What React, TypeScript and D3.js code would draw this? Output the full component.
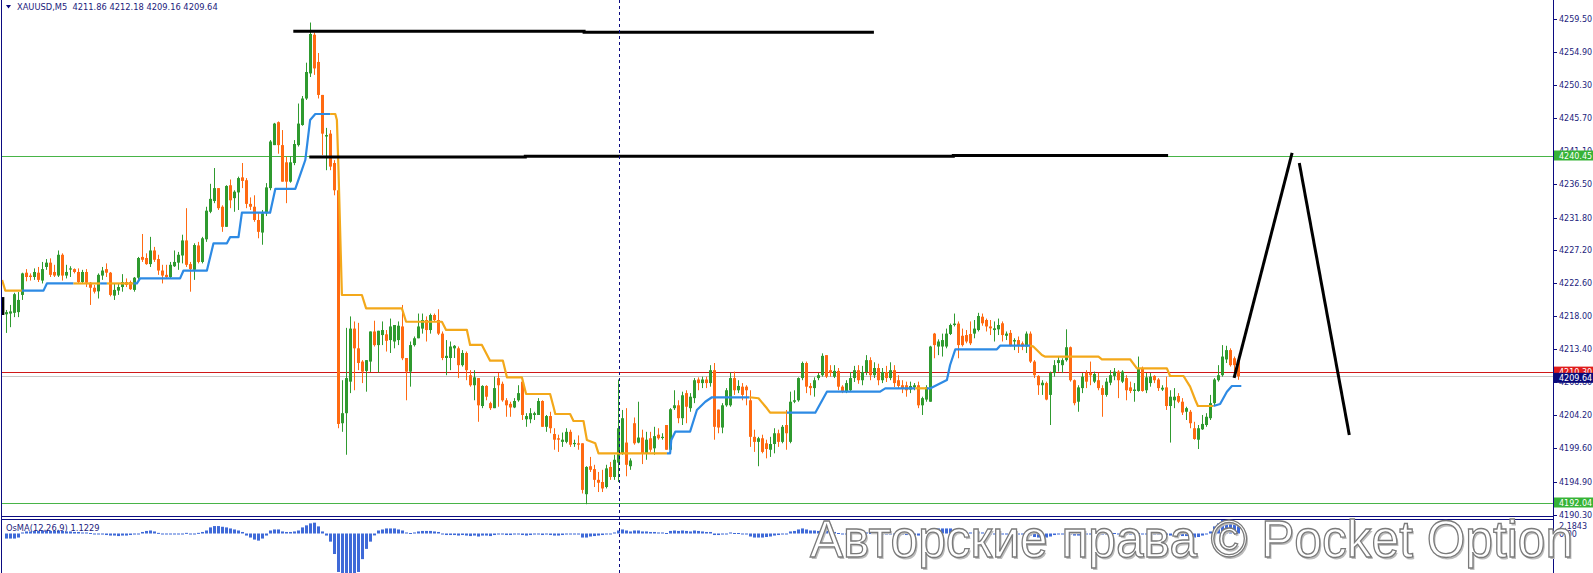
import * as d3 from 'd3';
import * as React from 'react';

const { useRef, useEffect } = React;

const width = 1593;
const height = 573;
const axisX = 1553;
const mainBottom = 516.5;
const subTop = 519.5;

const headerText = 'XAUUSD,M5  4211.86 4212.18 4209.16 4209.64';
const osmaText = 'OsMA(12,26,9) 1.1229';
const watermarkText = 'Авторские права © Pocket Option';

// M5 bars, [open, high, low, close]
const candles: [number, number, number, number][] = [
  [4218.3, 4218.9, 4215.7, 4218.6], [4218.4, 4219.6, 4216.5, 4218.7], [4218.5, 4221.3, 4217.9, 4221.1], [4218.6, 4221.4, 4217.9, 4220.3],
  [4221.0, 4224.1, 4220.3, 4224.0], [4224.1, 4224.6, 4222.9, 4223.5], [4223.7, 4224.0, 4223.0, 4223.5], [4223.5, 4224.7, 4223.1, 4224.2],
  [4224.1, 4224.9, 4222.8, 4223.1], [4223.0, 4225.6, 4222.6, 4224.6], [4224.9, 4226.0, 4224.5, 4225.5], [4225.5, 4226.1, 4223.5, 4223.8],
  [4224.2, 4225.2, 4223.5, 4223.7], [4223.7, 4227.2, 4223.5, 4226.6], [4226.6, 4226.8, 4223.0, 4223.7], [4223.7, 4225.2, 4223.3, 4224.2],
  [4224.55, 4225.0, 4223.5, 4224.7], [4224.6, 4224.7, 4224.0, 4224.2], [4224.2, 4224.7, 4222.6, 4222.8], [4222.8, 4224.5, 4222.6, 4224.2],
  [4224.2, 4224.6, 4222.1, 4222.7], [4222.7, 4222.8, 4219.6, 4222.0], [4222.0, 4222.4, 4221.2, 4221.45], [4221.5, 4224.0, 4220.5, 4223.8],
  [4223.7, 4224.9, 4223.1, 4224.4], [4224.6, 4225.4, 4223.5, 4224.1], [4224.1, 4224.2, 4220.8, 4221.0], [4220.9, 4222.6, 4220.3, 4221.7],
  [4221.6, 4222.6, 4221.0, 4222.1], [4222.1, 4223.9, 4221.45, 4222.8], [4222.8, 4223.3, 4222.1, 4222.4], [4222.8, 4223.0, 4221.7, 4221.8],
  [4221.7, 4223.5, 4221.45, 4223.4], [4223.4, 4226.3, 4223.1, 4226.15], [4226.3, 4229.5, 4225.6, 4225.9], [4226.15, 4226.8, 4225.2, 4225.3],
  [4225.3, 4229.1, 4224.9, 4227.2], [4227.2, 4227.7, 4225.6, 4225.9], [4226.0, 4226.6, 4223.8, 4224.4], [4224.4, 4225.2, 4222.6, 4223.7],
  [4223.8, 4225.2, 4223.3, 4223.5], [4223.5, 4225.6, 4223.3, 4225.2], [4225.0, 4227.2, 4224.9, 4225.6], [4225.5, 4227.0, 4224.5, 4226.6],
  [4226.5, 4229.4, 4225.4, 4228.6], [4228.6, 4233.1, 4224.9, 4225.2], [4225.3, 4225.6, 4221.45, 4224.6], [4224.5, 4228.2, 4223.1, 4227.96],
  [4227.9, 4228.4, 4225.4, 4225.6], [4225.6, 4229.1, 4225.4, 4228.9], [4228.76, 4233.3, 4228.4, 4232.75], [4232.6, 4236.5, 4232.4, 4234.4],
  [4234.1, 4238.7, 4233.8, 4235.9], [4235.9, 4235.9, 4232.85, 4233.1], [4233.3, 4233.5, 4229.8, 4230.5], [4230.5, 4236.3, 4230.5, 4236.2],
  [4236.3, 4237.1, 4233.1, 4234.2], [4234.5, 4235.6, 4232.6, 4235.4], [4235.3, 4237.5, 4232.85, 4237.3], [4237.4, 4239.4, 4235.9, 4236.9],
  [4237.0, 4237.3, 4233.1, 4233.7], [4233.7, 4234.6, 4232.85, 4233.3], [4233.3, 4234.9, 4231.2, 4231.45], [4231.45, 4232.4, 4228.9, 4229.8],
  [4229.7, 4232.85, 4228.0, 4232.4], [4232.4, 4236.6, 4232.0, 4236.0], [4235.9, 4242.6, 4235.6, 4242.4], [4241.9, 4245.0, 4241.9, 4244.9],
  [4245.1, 4245.2, 4240.7, 4241.9], [4241.9, 4244.0, 4236.8, 4236.8], [4239.5, 4240.3, 4233.8, 4236.8], [4236.8, 4240.3, 4236.65, 4239.5],
  [4239.4, 4242.6, 4239.1, 4242.05], [4241.9, 4247.7, 4241.7, 4244.9], [4244.7, 4248.75, 4244.6, 4248.4], [4248.4, 4253.4, 4248.2, 4252.1],
  [4251.9, 4259.0, 4251.4, 4257.4], [4257.3, 4257.6, 4251.7, 4252.6], [4253.5, 4254.75, 4248.4, 4248.9], [4248.9, 4248.9, 4240.5, 4243.5],
  [4243.1, 4244.3, 4238.4, 4243.3], [4243.5, 4244.0, 4238.4, 4238.9], [4239.4, 4239.8, 4234.9, 4235.6], [4235.6, 4235.9, 4202.4, 4203.0],
  [4203.1, 4209.1, 4201.9, 4204.5], [4204.5, 4216.4, 4198.7, 4209.4], [4208.9, 4218.0, 4207.3, 4216.3], [4216.3, 4217.3, 4207.7, 4213.55],
  [4213.55, 4217.1, 4210.5, 4211.5], [4211.7, 4211.9, 4208.7, 4210.3], [4210.4, 4211.9, 4207.5, 4211.9], [4211.7, 4215.9, 4210.25, 4215.9],
  [4215.9, 4217.4, 4213.8, 4214.0], [4214.0, 4216.0, 4210.15, 4216.0], [4215.4, 4217.3, 4214.0, 4216.1], [4215.5, 4216.1, 4213.1, 4214.6],
  [4214.7, 4217.7, 4212.9, 4216.6], [4214.5, 4216.8, 4213.55, 4216.8], [4214.7, 4217.3, 4214.0, 4216.7], [4216.6, 4219.6, 4211.9, 4212.16],
  [4212.2, 4212.2, 4206.3, 4210.3], [4210.3, 4214.5, 4208.2, 4214.0], [4214.0, 4215.2, 4213.8, 4214.95], [4214.95, 4218.4, 4214.95, 4216.6],
  [4216.3, 4218.4, 4215.6, 4217.5], [4217.5, 4218.0, 4214.5, 4216.1], [4216.1, 4218.4, 4215.6, 4218.2], [4218.2, 4218.4, 4217.3, 4217.5],
  [4217.5, 4219.0, 4215.4, 4215.6], [4215.6, 4215.9, 4211.9, 4212.2], [4212.2, 4214.7, 4209.8, 4212.5], [4212.2, 4214.5, 4210.5, 4213.8],
  [4213.55, 4214.0, 4212.2, 4213.9], [4213.55, 4213.8, 4209.4, 4211.2], [4211.2, 4213.3, 4211.0, 4212.9], [4212.9, 4213.1, 4209.1, 4210.5],
  [4209.8, 4210.5, 4208.2, 4208.4], [4208.4, 4210.5, 4206.3, 4209.5], [4209.4, 4209.4, 4203.3, 4205.6], [4205.5, 4208.4, 4205.2, 4208.3],
  [4208.3, 4208.4, 4206.3, 4206.8], [4205.9, 4206.1, 4204.95, 4205.2], [4205.2, 4209.6, 4205.2, 4208.0], [4209.4, 4210.1, 4205.4, 4208.4],
  [4208.6, 4208.9, 4206.1, 4206.3], [4206.3, 4206.6, 4204.0, 4205.6], [4205.8, 4206.1, 4204.0, 4205.3], [4205.3, 4206.6, 4205.2, 4206.2],
  [4206.3, 4208.4, 4206.1, 4207.3], [4208.9, 4209.1, 4203.55, 4204.25], [4203.65, 4204.5, 4202.6, 4204.1], [4203.65, 4205.2, 4203.1, 4204.5],
  [4204.25, 4204.7, 4203.55, 4204.5], [4204.25, 4206.6, 4204.25, 4206.2], [4206.2, 4206.3, 4202.6, 4202.6], [4202.6, 4204.25, 4201.9, 4204.1],
  [4204.1, 4204.7, 4201.7, 4202.4], [4201.6, 4202.4, 4199.4, 4200.8], [4201.0, 4201.5, 4199.1, 4200.8], [4200.5, 4201.8, 4199.8, 4200.8],
  [4200.5, 4202.4, 4200.3, 4201.9], [4201.9, 4202.2, 4199.8, 4200.1], [4200.25, 4200.8, 4199.8, 4200.35], [4200.3, 4201.4, 4199.4, 4200.1],
  [4200.3, 4200.3, 4193.3, 4193.8], [4193.2, 4197.1, 4191.8, 4197.0], [4197.1, 4198.4, 4196.3, 4196.6], [4196.7, 4197.3, 4194.2, 4195.2],
  [4195.2, 4196.3, 4193.5, 4194.8], [4194.9, 4196.6, 4193.5, 4194.0], [4194.2, 4197.3, 4194.0, 4196.8], [4197.0, 4197.7, 4195.2, 4195.6],
  [4195.6, 4198.7, 4195.2, 4198.0], [4197.6, 4209.2, 4194.9, 4202.4], [4198.8, 4204.95, 4198.7, 4203.8], [4200.4, 4205.2, 4195.7, 4197.3],
  [4197.1, 4198.2, 4196.6, 4197.9], [4203.1, 4203.9, 4200.1, 4200.3], [4200.4, 4206.1, 4200.3, 4201.1], [4201.1, 4202.2, 4197.4, 4198.9],
  [4198.9, 4201.9, 4198.0, 4200.8], [4201.0, 4201.9, 4199.1, 4199.4], [4199.6, 4202.6, 4198.7, 4201.3], [4201.5, 4202.4, 4200.8, 4201.0],
  [4201.1, 4201.7, 4200.8, 4201.2], [4202.85, 4202.85, 4199.4, 4199.4], [4199.4, 4205.2, 4198.9, 4205.05], [4205.2, 4207.7, 4204.95, 4205.6],
  [4205.6, 4206.3, 4203.1, 4203.8], [4203.8, 4207.5, 4202.85, 4207.0], [4207.3, 4207.7, 4203.1, 4205.4], [4205.2, 4207.3, 4204.7, 4206.8],
  [4206.6, 4209.4, 4205.9, 4209.1], [4209.2, 4209.5, 4207.7, 4208.7], [4208.7, 4209.6, 4208.0, 4209.2], [4209.2, 4209.6, 4208.0, 4208.7],
  [4208.7, 4211.2, 4208.2, 4210.5], [4210.5, 4211.5, 4200.8, 4202.6], [4205.0, 4205.0, 4201.7, 4202.5], [4202.5, 4205.9, 4201.7, 4205.6],
  [4205.6, 4208.0, 4205.4, 4207.7], [4205.6, 4210.15, 4205.4, 4209.4], [4209.4, 4210.3, 4207.05, 4207.7], [4207.7, 4209.1, 4207.3, 4208.3],
  [4208.2, 4208.7, 4206.3, 4207.05], [4208.2, 4208.4, 4205.6, 4207.7], [4206.3, 4207.7, 4199.8, 4201.2], [4201.2, 4202.2, 4199.1, 4200.5],
  [4200.5, 4201.2, 4197.1, 4201.0], [4201.0, 4201.5, 4198.9, 4199.1], [4200.3, 4200.8, 4198.2, 4199.5], [4199.4, 4201.2, 4198.4, 4200.2],
  [4200.2, 4202.4, 4198.9, 4201.7], [4201.7, 4202.2, 4199.8, 4200.5], [4200.5, 4202.85, 4200.3, 4202.6], [4202.85, 4204.95, 4199.4, 4201.7],
  [4200.5, 4207.5, 4200.3, 4206.1], [4206.1, 4207.7, 4205.9, 4206.3], [4206.3, 4209.5, 4206.1, 4209.4], [4209.4, 4211.7, 4209.1, 4211.5],
  [4211.5, 4211.7, 4207.3, 4208.2], [4208.3, 4208.7, 4207.0, 4208.0], [4208.0, 4209.5, 4206.8, 4209.1], [4209.4, 4210.1, 4209.1, 4209.8],
  [4209.8, 4212.85, 4209.6, 4212.5], [4212.6, 4212.6, 4209.4, 4209.6], [4210.5, 4211.2, 4209.6, 4210.1], [4209.6, 4211.2, 4209.4, 4210.4],
  [4210.4, 4210.8, 4207.7, 4208.2], [4208.2, 4208.4, 4207.3, 4207.5], [4207.5, 4209.1, 4207.3, 4208.7], [4207.7, 4210.25, 4207.45, 4209.4],
  [4209.4, 4211.1, 4208.85, 4210.5], [4210.5, 4211.2, 4208.6, 4209.1], [4209.1, 4211.1, 4208.4, 4210.25], [4210.25, 4212.6, 4209.8, 4211.9],
  [4211.9, 4212.3, 4209.1, 4209.8], [4209.8, 4211.6, 4209.4, 4210.8], [4210.8, 4211.4, 4208.4, 4209.1], [4209.1, 4210.8, 4208.7, 4210.25],
  [4210.25, 4211.1, 4208.85, 4209.4], [4209.4, 4211.6, 4209.1, 4210.5], [4210.5, 4211.2, 4208.15, 4208.7], [4209.1, 4209.8, 4207.9, 4208.3],
  [4208.4, 4209.1, 4207.3, 4208.0], [4208.4, 4208.9, 4206.8, 4207.7], [4207.8, 4208.9, 4207.3, 4208.3], [4208.1, 4208.7, 4207.7, 4208.4],
  [4208.4, 4208.9, 4205.2, 4205.6], [4205.6, 4206.8, 4204.25, 4206.6], [4206.4, 4208.4, 4206.1, 4208.1], [4206.1, 4213.9, 4206.1, 4213.8],
  [4215.6, 4215.7, 4212.16, 4214.0], [4213.8, 4214.8, 4212.6, 4214.5], [4213.8, 4215.6, 4212.4, 4214.7], [4213.8, 4216.3, 4213.55, 4215.6],
  [4215.55, 4217.0, 4215.4, 4216.8], [4216.8, 4218.4, 4216.6, 4217.0], [4217.0, 4217.3, 4212.16, 4214.0], [4215.3, 4216.3, 4213.8, 4214.0],
  [4215.4, 4216.1, 4214.25, 4214.5], [4215.55, 4217.3, 4214.0, 4214.25], [4215.6, 4217.5, 4214.95, 4216.3], [4216.1, 4218.5, 4215.9, 4218.06],
  [4217.96, 4218.4, 4216.7, 4217.04], [4217.5, 4217.7, 4215.9, 4216.6], [4216.6, 4217.5, 4215.4, 4216.34], [4216.1, 4217.3, 4214.5, 4216.34],
  [4216.2, 4217.7, 4215.4, 4216.8], [4217.04, 4217.3, 4214.5, 4215.4], [4215.3, 4215.9, 4214.7, 4215.6], [4215.7, 4216.1, 4213.8, 4214.0],
  [4214.5, 4214.95, 4213.3, 4214.7], [4214.7, 4215.2, 4212.9, 4214.0], [4214.25, 4214.5, 4213.3, 4213.8], [4213.8, 4215.9, 4212.9, 4215.6],
  [4215.6, 4215.9, 4211.5, 4211.7], [4211.7, 4211.9, 4209.4, 4209.8], [4209.7, 4209.8, 4207.05, 4208.4], [4208.4, 4209.1, 4207.05, 4208.75],
  [4208.7, 4208.9, 4206.3, 4206.4], [4207.05, 4210.3, 4202.85, 4210.1], [4210.1, 4211.9, 4209.6, 4211.2], [4211.5, 4212.4, 4210.3, 4211.9],
  [4211.2, 4212.16, 4210.1, 4211.9], [4211.9, 4216.2, 4211.7, 4213.7], [4213.7, 4213.8, 4208.9, 4209.1], [4209.1, 4209.2, 4205.6, 4205.9],
  [4206.1, 4208.4, 4204.7, 4208.1], [4208.0, 4210.1, 4207.3, 4209.6], [4210.1, 4210.5, 4208.0, 4208.9], [4210.1, 4211.7, 4208.4, 4209.8],
  [4208.9, 4210.3, 4208.7, 4209.97], [4209.1, 4210.15, 4207.7, 4208.0], [4208.0, 4208.4, 4204.0, 4207.05], [4207.05, 4209.4, 4206.8, 4208.9],
  [4208.75, 4210.5, 4208.4, 4209.8], [4209.7, 4210.8, 4209.1, 4210.3], [4210.3, 4210.5, 4206.6, 4209.1], [4208.9, 4210.5, 4208.7, 4210.3],
  [4209.4, 4209.8, 4206.3, 4207.7], [4208.1, 4208.9, 4207.3, 4207.6], [4207.6, 4208.7, 4206.1, 4207.8], [4207.6, 4212.4, 4207.5, 4210.8],
  [4210.8, 4211.0, 4207.5, 4207.6], [4207.7, 4210.1, 4207.3, 4209.5], [4208.7, 4210.1, 4208.2, 4209.6], [4209.7, 4209.8, 4208.7, 4209.1],
  [4209.2, 4209.4, 4207.6, 4208.0], [4207.8, 4208.4, 4207.6, 4208.05], [4208.1, 4209.6, 4204.95, 4205.5], [4205.5, 4207.7, 4200.4, 4206.8],
  [4206.3, 4208.0, 4205.2, 4206.8], [4206.9, 4207.3, 4205.9, 4206.1], [4206.1, 4206.6, 4204.25, 4204.6], [4204.7, 4205.4, 4203.55, 4205.2],
  [4204.7, 4204.95, 4202.4, 4203.1], [4202.4, 4203.3, 4200.8, 4200.9], [4200.8, 4202.85, 4199.5, 4202.4], [4202.25, 4204.25, 4202.16, 4203.0],
  [4202.85, 4204.5, 4202.6, 4204.0], [4203.8, 4207.05, 4203.55, 4205.9], [4205.9, 4209.4, 4205.6, 4209.2], [4209.1, 4211.2, 4208.9, 4209.8],
  [4209.8, 4214.0, 4209.6, 4212.4], [4212.0, 4213.9, 4211.5, 4213.3], [4213.3, 4213.55, 4211.0, 4211.2], [4212.16, 4212.4, 4210.3, 4211.2],
  [4211.86, 4212.18, 4209.16, 4209.64],
];

// trailing stop line vertices: [bar index, price, 'd' = falling (orange) / 'u' = rising (blue)]
const trail: [number, number, string][] = [
  [-1.1, 4223.08, 'd'], [-0.3, 4221.6, 'd'], [3.85, 4221.6, 'd'], [9.25, 4221.6, 'u'], [10.1, 4222.6, 'u'],
  [16.75, 4222.6, 'u'], [23.4, 4222.6, 'd'], [25.1, 4222.6, 'u'], [31.75, 4222.6, 'd'], [32.6, 4222.6, 'u'],
  [33.4, 4223.3, 'u'], [43.4, 4223.3, 'u'], [44.25, 4224.4, 'u'], [50.1, 4224.4, 'u'], [51.75, 4228.2, 'u'],
  [55.1, 4228.2, 'u'], [55.9, 4229.05, 'u'], [58.0, 4229.05, 'u'], [58.85, 4232.47, 'u'], [65.9, 4232.47, 'u'],
  [67.2, 4235.78, 'u'], [72.2, 4235.78, 'u'], [73.85, 4238.43, 'u'], [74.7, 4239.82, 'u'], [75.9, 4245.4, 'u'],
  [77.2, 4246.24, 'u'], [80.9, 4246.24, 'u'], [82.2, 4246.24, 'd'], [82.6, 4245.4, 'd'], [83.0, 4238.43, 'd'],
  [83.85, 4220.99, 'd'], [88.85, 4220.99, 'd'], [89.9, 4219.13, 'd'], [98.85, 4219.13, 'd'], [99.9, 4217.26, 'd'],
  [108.85, 4217.26, 'd'], [109.9, 4216.11, 'd'], [115.1, 4216.11, 'd'], [115.9, 4214.02, 'd'], [118.85, 4214.02, 'd'],
  [120.9, 4211.82, 'd'], [124.1, 4211.82, 'd'], [125.1, 4209.51, 'd'], [128.85, 4209.51, 'd'], [129.9, 4207.18, 'd'],
  [135.9, 4207.18, 'd'], [136.75, 4205.41, 'd'], [137.2, 4204.39, 'd'], [140.9, 4204.39, 'd'], [141.75, 4203.41, 'd'],
  [144.25, 4203.41, 'd'], [145.1, 4200.76, 'd'], [147.2, 4200.3, 'd'], [148.0, 4198.9, 'd'], [165.1, 4198.9, 'd'],
  [165.9, 4198.9, 'u'], [166.2, 4200.76, 'u'], [167.2, 4201.92, 'u'], [170.9, 4201.92, 'u'], [172.6, 4204.95, 'u'],
  [174.7, 4206.1, 'u'], [176.35, 4206.72, 'u'], [185.75, 4206.72, 'u'], [188.0, 4206.58, 'd'], [190.1, 4205.18, 'd'],
  [190.9, 4204.57, 'd'], [195.1, 4204.57, 'd'], [202.2, 4204.57, 'u'], [205.1, 4207.5, 'u'], [218.4, 4207.5, 'u'],
  [219.7, 4207.97, 'u'], [227.2, 4207.97, 'u'], [230.1, 4207.97, 'd'], [231.0, 4207.97, 'u'], [235.1, 4209.13, 'u'],
  [235.9, 4211.22, 'u'], [237.2, 4213.41, 'u'], [247.6, 4213.41, 'u'], [248.4, 4213.92, 'u'], [255.9, 4213.92, 'u'],
  [256.75, 4213.78, 'd'], [258.85, 4212.62, 'd'], [259.7, 4212.38, 'd'], [273.0, 4212.38, 'd'], [273.85, 4212.02, 'd'],
  [280.9, 4212.02, 'd'], [282.6, 4210.76, 'd'], [290.1, 4210.76, 'd'], [290.9, 4209.69, 'd'], [294.25, 4209.69, 'd'],
  [295.9, 4208.2, 'd'], [297.2, 4206.34, 'd'], [297.85, 4205.5, 'd'], [301.75, 4205.5, 'd'], [303.4, 4205.78, 'u'],
  [305.1, 4207.5, 'u'], [306.35, 4208.29, 'u'], [308.7, 4208.29, 'u'],
];

// OsMA(12,26,9) histogram, one value per bar
const osma: number[] = [
  -0.79, -0.79, -0.79, -0.63, 0.16, 0.32, 0.32, 0.40, 0.40, 0.47,
  0.47, 0.40, 0.40, 0.47, 0.40, 0.32, 0.32, 0.24, 0.24, 0.16,
  0.16, 0.08, 0.00, -0.08, -0.16, -0.24, -0.32, -0.32, -0.40, -0.32,
  -0.32, -0.24, -0.16, -0.08, 0.24, 0.40, 0.47, 0.32, 0.10, -0.10,
  -0.15, -0.15, -0.10, -0.10, 0.00, 0.10, -0.10, 0.00, 0.10, 0.24,
  0.47, 0.95, 1.16, 1.16, 1.05, 0.95, 0.79, 0.63, 0.47, 0.24,
  -0.32, -0.63, -0.95, -1.11, -0.79, -0.32, 0.47, 0.63, 0.63, 0.32,
  0.24, 0.24, 0.32, 0.47, 0.95, 1.27, 1.58, 1.69, 1.11, 0.32,
  -0.32, -1.27, -3.20, -6.00, -8.50, -9.50, -9.00, -7.50, -6.00, -4.00,
  -2.40, -1.27, -0.30, 0.47, 0.63, 0.79, 0.79, 0.79, 0.63, 0.47,
  0.16, 0.08, 0.16, 0.32, 0.40, 0.40, 0.40, 0.32, 0.24, -0.08,
  -0.24, -0.24, -0.24, -0.32, -0.24, -0.32, -0.40, -0.32, -0.47, -0.32,
  -0.32, -0.40, -0.24, -0.08, -0.16, -0.24, -0.24, -0.16, -0.08, -0.24,
  -0.32, -0.24, -0.16, -0.08, -0.24, -0.16, -0.24, -0.32, -0.32, -0.24,
  -0.16, -0.16, -0.16, -0.16, -0.63, -0.63, -0.47, -0.40, -0.32, -0.24,
  -0.08, 0.00, 0.16, 0.47, 0.63, 0.47, 0.32, 0.47, 0.47, 0.32,
  0.32, 0.24, 0.24, 0.16, 0.16, 0.08, 0.40, 0.47, 0.40, 0.47,
  0.40, 0.32, 0.47, 0.40, 0.32, 0.24, 0.24, -0.24, -0.24, -0.16,
  0.00, 0.16, 0.08, 0.08, 0.00, -0.08, -0.47, -0.63, -0.63, -0.63,
  -0.55, -0.47, -0.32, -0.24, -0.08, 0.00, 0.32, 0.40, 0.63, 0.79,
  0.63, 0.47, 0.47, 0.40, 0.55, 0.40, 0.32, 0.24, 0.08, -0.08,
  -0.08, 0.00, 0.08, 0.08, 0.08, 0.16, 0.08, 0.08, 0.00, 0.00,
  0.00, 0.00, -0.08, -0.16, -0.16, -0.24, -0.24, -0.24, -0.32, -0.32,
  -0.16, 0.47, 0.79, 0.79, 0.79, 0.79, 0.79, 0.63, 0.40, 0.32,
  0.24, 0.16, 0.16, 0.24, 0.16, 0.08, 0.00, 0.00, 0.00, -0.08,
  -0.08, -0.16, -0.16, -0.16, -0.16, -0.08, -0.32, -0.55, -0.63, -0.63,
  -0.63, -0.47, -0.24, -0.08, 0.00, 0.16, -0.08, -0.32, -0.32, -0.24,
  -0.16, -0.08, -0.08, -0.08, -0.16, -0.08, 0.00, 0.08, 0.00, 0.08,
  0.00, -0.08, -0.08, 0.08, 0.00, 0.00, 0.00, 0.00, -0.08, -0.08,
  -0.24, -0.32, -0.32, -0.32, -0.40, -0.40, -0.47, -0.63, -0.55, -0.32,
  -0.08, 0.32, 1.11, 1.58, 2.18, 2.10, 1.74, 1.42, 1.1229,
];

const priceTicks = [
  4259.5, 4254.9, 4250.3, 4245.7, 4241.1, 4236.5, 4231.8, 4227.2,
  4222.6, 4218.0, 4213.4, 4208.8, 4204.2, 4199.6, 4194.9, 4190.3,
];
const greenLevels = [4240.45, 4192.04];
const askLevel = 4210.3;
const bidLevel = 4209.64;
const osmaMax = 2.1843;
const osmaLabels = ['2.1843', '0.00'];
const cursorBar = 153;

// hand drawn marks, [bar index, price]
const topLine: [number, number][] = [[71.7, 4257.77], [144.4, 4257.77], [144.4, 4257.65], [216.85, 4257.65]];
const midLine: [number, number][] = [[75.7, 4240.24], [129.7, 4240.24], [129.7, 4240.36], [236.7, 4240.36], [236.7, 4240.46], [290.4, 4240.46]];
const zigUp: [number, number][] = [[306.9, 4209.41], [321.4, 4240.8]];
const zigDown: [number, number][] = [[323.2, 4239.4], [335.7, 4201.46]];
const edgeMark: [number, number][] = [[-0.85, 4220.7], [-0.85, 4218.2]];

const navy = '#0b0b80';
const textNavy = '#1c1c7c';
const bull = '#2f9a2f';
const bear = '#ff6a12';

export default function App() {
  const ref = useRef<SVGSVGElement>(null);

  useEffect(() => {
    const svg = d3.select(ref.current);
    svg.selectAll('*').remove();

    const x = d3.scaleLinear().domain([0, candles.length - 1]).range([6.5, 6.5 + 4 * (candles.length - 1)]);
    const y = d3.scaleLinear().domain([4192.04, 4240.45]).range([502.5, 155.5]);
    const oy = d3.scaleLinear().domain([0, osmaMax]).range([533.5, subTop]);

    svg.append('rect').attr('width', width).attr('height', height).attr('fill', '#fff');

    const defs = svg.append('defs');
    defs.append('clipPath').attr('id', 'mainClip')
      .append('rect').attr('x', 2).attr('y', 0).attr('width', axisX - 2).attr('height', mainBottom);
    defs.append('clipPath').attr('id', 'subClip')
      .append('rect').attr('x', 2).attr('y', subTop + 0.5).attr('width', axisX - 2).attr('height', height - subTop);

    const main = svg.append('g').attr('clip-path', 'url(#mainClip)');

    // level lines
    main.selectAll('line.lvl')
      .data(greenLevels)
      .join('line')
      .attr('x1', 2).attr('x2', axisX)
      .attr('y1', d => Math.round(y(d)) + 0.5).attr('y2', d => Math.round(y(d)) + 0.5)
      .attr('stroke', '#48b448').attr('stroke-width', 1);
    main.append('line')
      .attr('x1', 2).attr('x2', axisX)
      .attr('y1', Math.round(y(bidLevel)) + 0.5).attr('y2', Math.round(y(bidLevel)) + 0.5)
      .attr('stroke', '#c8c8c8');
    main.append('line')
      .attr('x1', 2).attr('x2', axisX)
      .attr('y1', Math.round(y(askLevel)) + 0.5).attr('y2', Math.round(y(askLevel)) + 0.5)
      .attr('stroke', '#d01818');

    // candles
    const cg = main.append('g');
    candles.forEach(([o, h, l, c], i) => {
      const col = c >= o ? bull : bear;
      const cx = x(i);
      cg.append('line')
        .attr('x1', cx).attr('x2', cx)
        .attr('y1', y(h)).attr('y2', y(l))
        .attr('stroke', col).attr('stroke-width', 1);
      const top = Math.min(y(o), y(c));
      const hgt = Math.max(1.2, Math.abs(y(o) - y(c)));
      cg.append('rect')
        .attr('x', cx - 1.5).attr('width', 3)
        .attr('y', top).attr('height', hgt)
        .attr('fill', col);
    });

    // trailing line, split into runs by colour
    const line = d3.line<[number, number, string]>().x(d => x(d[0])).y(d => y(d[1]));
    const runs: [number, number, string][][] = [];
    for (let k = 1; k < trail.length; k++) {
      const t = trail[k][2];
      const last = runs[runs.length - 1];
      if (last && last[last.length - 1] === trail[k - 1] && last.trend === t) {
        last.push(trail[k]);
      } else {
        const r: any = [trail[k - 1], trail[k]];
        r.trend = t;
        runs.push(r);
      }
    }
    main.selectAll('path.trail')
      .data(runs)
      .join('path')
      .attr('d', d => line(d))
      .attr('fill', 'none')
      .attr('stroke', (d: any) => (d.trend === 'u' ? '#2d8ae4' : '#f3a81a'))
      .attr('stroke-width', 2.2)
      .attr('stroke-linejoin', 'round');

    // hand drawn lines
    const pl = d3.line<[number, number]>().x(d => x(d[0])).y(d => y(d[1]));
    [topLine, midLine, zigUp, zigDown, edgeMark].forEach((pts, k) => {
      svg.append('path')
        .attr('d', pl(pts))
        .attr('fill', 'none')
        .attr('stroke', '#000')
        .attr('stroke-width', k === 4 ? 2.5 : 3)
        .attr('stroke-linecap', 'butt');
    });

    // OsMA histogram
    const sub = svg.append('g').attr('clip-path', 'url(#subClip)');
    sub.selectAll('rect')
      .data(osma)
      .join('rect')
      .attr('x', (d, i) => x(i) - 1.5)
      .attr('width', 3)
      .attr('y', d => Math.min(oy(d), oy(0)))
      .attr('height', d => Math.max(1, Math.abs(oy(d) - oy(0))))
      .attr('fill', '#3f6ad8');

    // cursor line
    const cx0 = Math.round(x(cursorBar)) + 0.5;
    svg.append('line')
      .attr('x1', cx0).attr('x2', cx0).attr('y1', 0).attr('y2', height)
      .attr('stroke', navy).attr('stroke-dasharray', '3,3').attr('stroke-width', 1);

    // frames
    svg.append('line').attr('x1', 1.5).attr('x2', 1.5).attr('y1', 0).attr('y2', height).attr('stroke', navy);
    svg.append('line').attr('x1', 1.5).attr('x2', axisX).attr('y1', mainBottom).attr('y2', mainBottom).attr('stroke', navy);
    svg.append('line').attr('x1', 1.5).attr('x2', axisX).attr('y1', subTop).attr('y2', subTop).attr('stroke', navy);
    svg.append('line').attr('x1', axisX + 0.5).attr('x2', axisX + 0.5).attr('y1', 0).attr('y2', height).attr('stroke', navy);

    // price axis
    const ax = svg.append('g').attr('font-family', 'DejaVu Sans, sans-serif').attr('font-size', 8).attr('fill', textNavy);
    ax.selectAll('line')
      .data(priceTicks)
      .join('line')
      .attr('x1', axisX).attr('x2', axisX + 4)
      .attr('y1', d => Math.round(y(d)) + 0.5).attr('y2', d => Math.round(y(d)) + 0.5)
      .attr('stroke', navy);
    ax.selectAll('text')
      .data(priceTicks)
      .join('text')
      .attr('x', axisX + 6)
      .attr('y', d => y(d) + 3)
      .text(d => d.toFixed(2));

    // price labels
    const box = (v: number, fill: string, yc: number) => {
      svg.append('rect').attr('x', axisX + 1).attr('y', yc - 5).attr('width', width - axisX - 1).attr('height', 10).attr('fill', fill);
      svg.append('text')
        .attr('x', axisX + 6).attr('y', yc + 3)
        .attr('font-family', 'DejaVu Sans, sans-serif').attr('font-size', 8).attr('fill', '#fff')
        .text(v.toFixed(2));
    };
    greenLevels.forEach(v => box(v, '#36b336', y(v)));
    box(askLevel, '#e01c1c', y(askLevel));
    box(bidLevel, '#0a0a7a', y(bidLevel) + 1.5);

    // OsMA scale labels
    svg.append('text').attr('x', axisX + 6).attr('y', oy(osmaMax) + 9)
      .attr('font-family', 'DejaVu Sans, sans-serif').attr('font-size', 8).attr('fill', textNavy).text(osmaLabels[0]);
    svg.append('text').attr('x', axisX + 6).attr('y', oy(0) + 3)
      .attr('font-family', 'DejaVu Sans, sans-serif').attr('font-size', 8).attr('fill', textNavy).text(osmaLabels[1]);

    // header
    svg.append('path').attr('d', 'M6,5 L11,5 L8.5,8.5 Z').attr('fill', navy);
    svg.append('text').attr('x', 17).attr('y', 9.5)
      .attr('font-family', 'DejaVu Sans, sans-serif').attr('font-size', 8.3).attr('fill', textNavy)
      .attr('xml:space', 'preserve').style('white-space', 'pre')
      .text(headerText);
    svg.append('text').attr('x', 6).attr('y', 531)
      .attr('font-family', 'DejaVu Sans, sans-serif').attr('font-size', 8.3).attr('fill', textNavy)
      .text(osmaText);

    // watermark
    const wm = (dx: number, fill: string, stroke: string) =>
      svg.append('text')
        .attr('x', 810 + dx).attr('y', 557 + dx)
        .attr('font-family', 'Liberation Sans, Arial, sans-serif').attr('font-size', 51)
        .attr('textLength', 763).attr('lengthAdjust', 'spacingAndGlyphs')
        .attr('fill', fill).attr('stroke', stroke).attr('stroke-width', 1.3)
        .text(watermarkText);
    wm(1.5, '#bdbdbd', 'none');
    wm(0, '#ffffff', '#7a7a7a');
  }, []);

  return (
    <svg ref={ref} width={width} height={height} style={{ position: 'absolute', left: 0, top: 0 }} />
  );
}
